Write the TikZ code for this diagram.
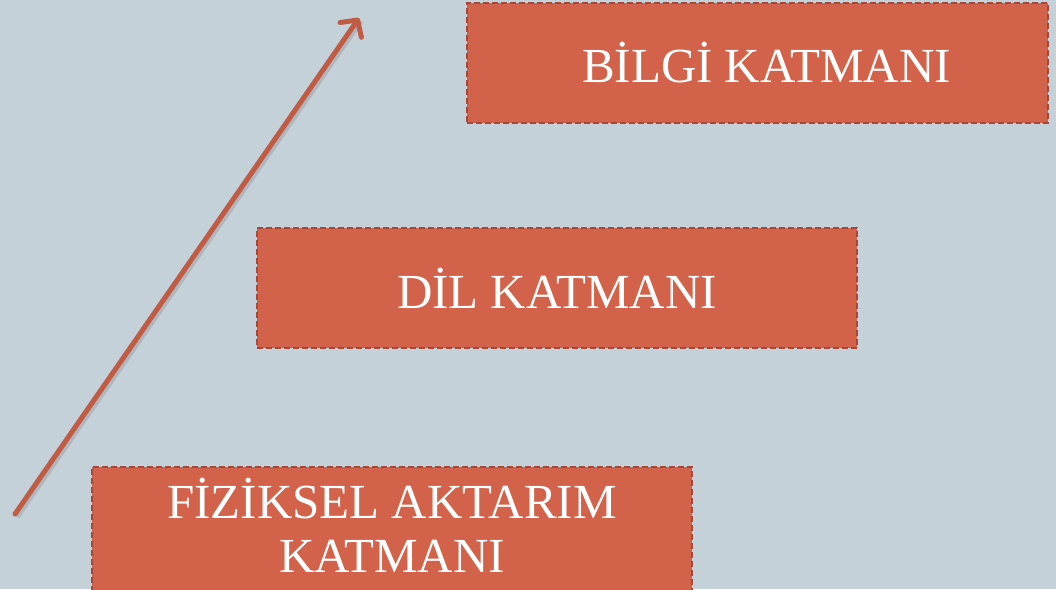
\documentclass[tikz,border=0pt]{standalone}
\usepackage{fontspec}
\setmainfont{Liberation Serif}
\usetikzlibrary{arrows.meta,calc}
\definecolor{bgc}{HTML}{C5D1D8}
\definecolor{boxc}{HTML}{D2634A}
\definecolor{edgec}{HTML}{A5483A}
\begin{document}
\begin{tikzpicture}[x=1pt,y=-1pt,
  layer/.style={draw=edgec, fill=boxc, line width=2.6pt,
    dash pattern=on 6pt off 3pt, text=white, align=center,
    font=\fontsize{49}{54}\selectfont, inner sep=0pt},
  layertext/.style={text=white, align=center,
    font=\fontsize{49}{54}\selectfont, inner sep=0pt},
  uparrow/.style={draw=boxc!92!black, line width=5pt, line cap=round,
    -{Straight Barb[length=12pt,width=26pt,line width=5pt,round]}}]
\path[use as bounding box, fill=bgc] (0,0) rectangle (1056,589);
\begin{scope}
\clip (0,0) rectangle (1056,589);
\node[layer, minimum width=581pt, minimum height=120pt] (bilgi) at (757.5,63) {\hspace{18pt}BİLGİ KATMANI};
\node[layer, minimum width=600pt, minimum height=120pt] (dil) at (557,288) {DİL KATMANI};
\node[layer, minimum width=600pt, minimum height=130pt] (fiz) at (392,532) {};
\node[layertext] (fiztext) at (392,525) {FİZİKSEL AKTARIM\\KATMANI};
\coordinate (a0) at (15,514);
\coordinate (a1) at (359,18);
\draw[black, opacity=0.12, line width=5pt] ($(a0)+(2,3)$) -- ($(a1)+(2,3)$);
\draw[uparrow] (a0) -- (a1);
\end{scope}
\end{tikzpicture}
\end{document}
